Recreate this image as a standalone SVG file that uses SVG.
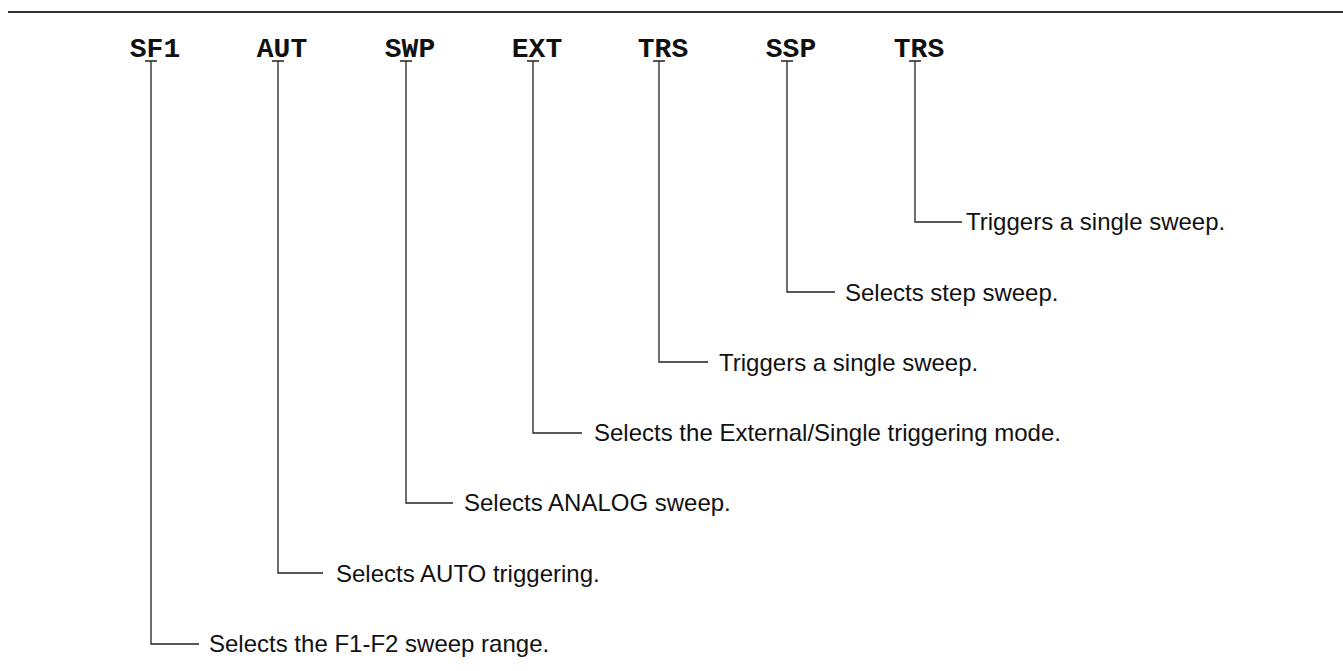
<svg xmlns="http://www.w3.org/2000/svg" width="1343" height="671" viewBox="0 0 1343 671">
<style>
.cmd{font-family:"Liberation Mono","Courier New",monospace;font-weight:bold;font-size:28px;fill:#111;text-anchor:middle}
.desc{font-family:"Liberation Sans",Arial,sans-serif;font-size:24px;fill:#111}
.ln{stroke:#222;stroke-width:1.3;fill:none}
</style>
<rect width="1343" height="671" fill="#fff"/>
<line x1="8" y1="12" x2="1343" y2="12" stroke="#333" stroke-width="2"/>
<g id="node-sf1"><text class="cmd" x="155" y="57">SF1</text><text class="desc" x="209" y="652">Selects the F1-F2 sweep range.</text></g>
<g id="node-aut"><text class="cmd" x="282" y="57">AUT</text><text class="desc" x="336" y="582">Selects AUTO triggering.</text></g>
<g id="node-swp"><text class="cmd" x="410" y="57">SWP</text><text class="desc" x="464" y="511">Selects ANALOG sweep.</text></g>
<g id="node-ext"><text class="cmd" x="537" y="57">EXT</text><text class="desc" x="594" y="441">Selects the External/Single triggering mode.</text></g>
<g id="node-trs1"><text class="cmd" x="663" y="57">TRS</text><text class="desc" x="719" y="371">Triggers a single sweep.</text></g>
<g id="node-ssp"><text class="cmd" x="791" y="57">SSP</text><text class="desc" x="845" y="301">Selects step sweep.</text></g>
<g id="node-trs2"><text class="cmd" x="919" y="57">TRS</text><text class="desc" x="966" y="230">Triggers a single sweep.</text></g>
<g id="connectors">
<path class="ln" d="M145 61H157M151 61V644H199"/>
<path class="ln" d="M272 61H284M278 61V573H323"/>
<path class="ln" d="M400 61H412M406 61V503H453"/>
<path class="ln" d="M527 61H539M533 61V433H582"/>
<path class="ln" d="M653 61H665M659 61V362H708"/>
<path class="ln" d="M781 61H793M787 61V292H835"/>
<path class="ln" d="M909 61H921M915 61V222H962"/>
</g>
</svg>
